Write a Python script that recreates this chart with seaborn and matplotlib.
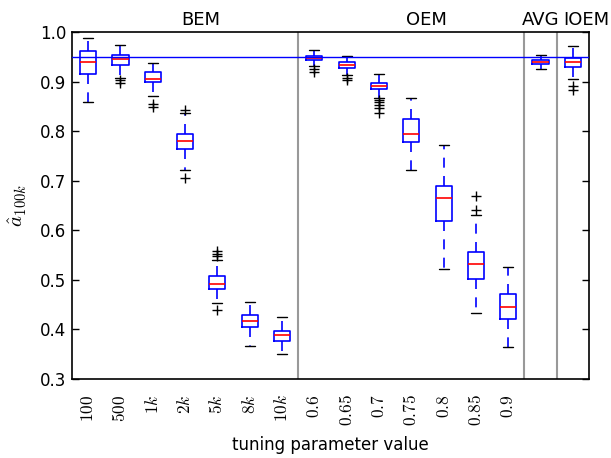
import numpy as np
import pandas as pd
import matplotlib
matplotlib.use("Agg")
import matplotlib.pyplot as plt
import matplotlib.transforms as mtransforms
import seaborn as sns

# ---- data ----
categories = ["100", "500", "1k", "2k", "5k", "8k", "10k",
              "0.6", "0.65", "0.7", "0.75", "0.8", "0.85", "0.9",
              "AVG", "IOEM"]
tick_labels = [r"$100$", r"$500$", r"$1k$", r"$2k$", r"$5k$", r"$8k$", r"$10k$",
               r"$0.6$", r"$0.65$", r"$0.7$", r"$0.75$", r"$0.8$", r"$0.85$", r"$0.9$",
               "", ""]
whisker_low = [0.858, 0.907, 0.870, 0.721, 0.454, 0.367, 0.350,
               0.931, 0.913, 0.866, 0.721, 0.522, 0.433, 0.365,
               0.925, 0.905]
q1 = [0.916, 0.934, 0.899, 0.764, 0.482, 0.404, 0.377,
      0.943, 0.927, 0.885, 0.778, 0.619, 0.502, 0.422,
      0.936, 0.929]
median = [0.9395, 0.945, 0.905, 0.780, 0.492, 0.416, 0.388,
          0.948, 0.933, 0.891, 0.795, 0.666, 0.531, 0.445,
          0.9395, 0.939]
q3 = [0.962, 0.953, 0.920, 0.794, 0.507, 0.429, 0.397,
      0.952, 0.939, 0.898, 0.824, 0.690, 0.557, 0.471,
      0.944, 0.947]
whisker_high = [0.988, 0.973, 0.938, 0.837, 0.541, 0.455, 0.426,
                0.963, 0.952, 0.916, 0.867, 0.772, 0.631, 0.526,
                0.953, 0.971]
fliers_low = [[], [0.897, 0.903], [0.849, 0.854], [0.705], [0.439], [], [],
              [0.919, 0.926], [0.903, 0.908], [0.837, 0.846, 0.852, 0.859, 0.863], [], [], [], [],
              [], [0.883, 0.891]]
fliers_high = [[], [], [], [0.842], [0.548, 0.553, 0.559], [], [],
               [], [], [], [], [], [0.641, 0.670], [],
               [], []]
group_names = ["BEM", "OEM", "AVG", "IOEM"]
reference_level = 0.95


def expand(lo, a, m, b, hi, fl, fh):
    """Rebuild a sample whose box statistics are exactly (lo, a, m, b, hi) plus fliers."""
    k = max(len(fl), len(fh)) + 1
    lower = list(fl) + [lo] + [a] * (k - 1 - len(fl))
    upper = [b] * (k - 1 - len(fh)) + [hi] + list(fh)
    return lower + [a] + [m] * (k - 1) + [m] + [m] * (k - 1) + [b] + upper


rows = []
for i, c in enumerate(categories):
    for v in expand(whisker_low[i], q1[i], median[i], q3[i], whisker_high[i],
                    fliers_low[i], fliers_high[i]):
        rows.append((c, v))
df = pd.DataFrame(rows, columns=["cat", "val"])

# ---- plot ----
sns.set_style("white")
plt.rcParams["font.family"] = ["DejaVu Sans"]
plt.rcParams["mathtext.fontset"] = "cm"
for key in ["text.color", "axes.labelcolor", "xtick.color", "ytick.color"]:
    plt.rcParams[key] = "black"

fig = plt.figure(figsize=(6.11, 4.58), dpi=100)
ax = fig.add_axes([72 / 611, 1 - 379 / 458, 517 / 611, 347 / 458])

sns.boxplot(data=df, x="cat", y="val", order=categories, ax=ax,
            width=0.5, fill=False, color="blue", linecolor="blue", linewidth=1.2, whis=1.5,
            boxprops=dict(color="blue", linewidth=1.2),
            medianprops=dict(color="red", linewidth=1.2),
            whiskerprops=dict(color="blue", linestyle=(0, (6, 5)), linewidth=1.2),
            capprops=dict(color="black", linewidth=1.0),
            flierprops=dict(marker="+", markeredgecolor="black", markersize=7,
                            markeredgewidth=1.0))

# caps about 0.3 category wide as in the reference
for line in ax.lines:
    xd = np.asarray(line.get_xdata(), dtype=float)
    if line.get_color() in ("black", "k") and len(xd) == 2 and xd[0] != xd[1]:
        c = xd.mean()
        line.set_xdata([c - 0.155, c + 0.155])

ax.set_xlim(-0.5, len(categories) - 0.5)
ax.set_ylim(0.3, 1.0)
ax.set_yticks(np.arange(0.3, 1.0001, 0.1))
ax.set_yticklabels([f"{t:.1f}" for t in np.arange(0.3, 1.0001, 0.1)], fontsize=12)
ax.set_xticks(range(len(categories)))
ax.set_xticklabels(tick_labels, rotation=90, fontsize=12.5)
ax.tick_params(axis="x", length=0, pad=11)
ax.tick_params(axis="y", direction="in", length=5, width=1, right=True, left=True, pad=4)

for x in [6.5, 13.5, 14.5]:
    ax.axvline(x, color="#999999", linewidth=1.5, zorder=1)
ax.axhline(reference_level, color="blue", linewidth=1.0, zorder=3)

for sp in ax.spines.values():
    sp.set_visible(True)
    sp.set_color("black")
    sp.set_linewidth(1.2)

label_y = 1.015
ax.text(3.49, label_y, group_names[0], ha="center", va="baseline", fontsize=13)
ax.text(10.48, label_y, group_names[1], ha="center", va="baseline", fontsize=13)
ax.text(14.0, label_y, group_names[2], ha="center", va="baseline", fontsize=13)
blend = mtransforms.blended_transform_factory(fig.transFigure, ax.transData)
ax.text(0.998, label_y, group_names[3], transform=blend, ha="right", va="baseline",
        fontsize=13, clip_on=False)

ax.set_xlabel("tuning parameter value", fontsize=12, labelpad=7)
ax.set_ylabel(r"$\hat{a}_{100k}$", fontsize=15, labelpad=8)

fig.savefig("out.png", dpi=100)
